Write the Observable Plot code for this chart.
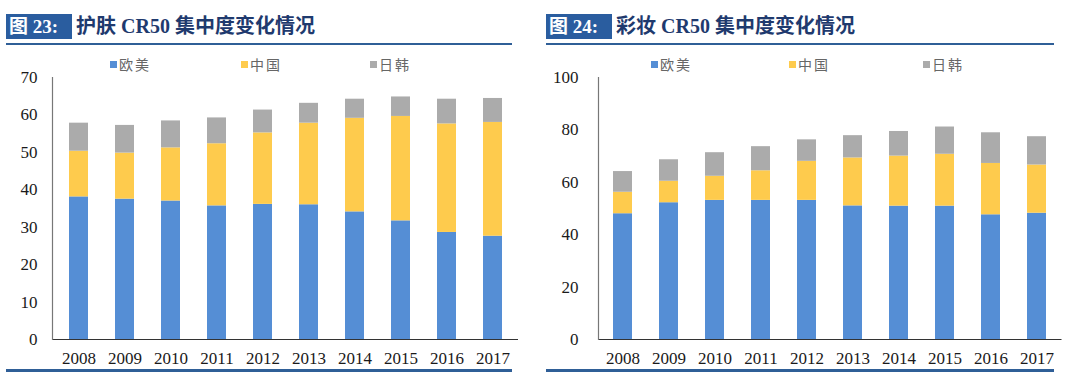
<!DOCTYPE html>
<html><head><meta charset="utf-8">
<script src="https://cdn.jsdelivr.net/npm/d3@7"></script>
<script src="https://cdn.jsdelivr.net/npm/@observablehq/plot@0.6"></script>
<style>
html,body{margin:0;padding:0;background:#fff;}
#wrap{position:relative;width:1080px;height:380px;overflow:hidden;}
.panel{position:absolute;top:0;width:540px;height:380px;}
.tbox{position:absolute;top:14px;left:6px;height:25px;width:66px;background:#2a5d9f;color:#fff;font:bold 19px "Liberation Serif","Noto Sans CJK SC",serif;line-height:25px;padding-left:3px;box-sizing:border-box;white-space:nowrap;}
.ttext{position:absolute;top:14px;left:76px;height:25px;color:#1f3a6e;font:bold 20px "Liberation Serif","Noto Sans CJK SC",serif;line-height:25px;white-space:nowrap;}
.uline{position:absolute;top:43px;left:6px;width:506px;height:2px;background:#2f5f97;}
.bline{position:absolute;top:369px;left:6px;width:506px;height:3px;background:#2f5f97;}
.leg{position:absolute;top:54px;font:14px "Noto Sans CJK SC",sans-serif;color:#666;white-space:nowrap;letter-spacing:2px;}
.leg i{display:inline-block;width:7px;height:7px;margin-right:2px;vertical-align:2px;}
.chart{position:absolute;top:66px;left:0;}
</style></head>
<body><div id="wrap">
<div class="panel" id="p1" style="left:0">
  <div class="tbox">图 23:</div>
  <div class="ttext">护肤 CR50 集中度变化情况</div>
  <div class="uline"></div>
  <div class="leg" style="left:110px"><i style="background:#558ed5"></i>欧美</div>
  <div class="leg" style="left:241px"><i style="background:#fecb4d"></i>中国</div>
  <div class="leg" style="left:370px"><i style="background:#ababab"></i>日韩</div>
  <div class="chart" id="c1"></div>
  <div class="bline"></div>
</div>
<div class="panel" id="p2" style="left:540px">
  <div class="tbox">图 24:</div>
  <div class="ttext">彩妆 CR50 集中度变化情况</div>
  <div class="uline" style="width:508px"></div>
  <div class="leg" style="left:111px"><i style="background:#558ed5"></i>欧美</div>
  <div class="leg" style="left:249px"><i style="background:#fecb4d"></i>中国</div>
  <div class="leg" style="left:383px"><i style="background:#ababab"></i>日韩</div>
  <div class="chart" id="c2"></div>
  <div class="bline" style="width:508px"></div>
</div>
</div>
<script>
const years = ["2008","2009","2010","2011","2012","2013","2014","2015","2016","2017"];
const series = ["欧美","中国","日韩"];
const colors = ["#558ed5","#fecb4d","#ababab"];
// 护肤 CR50
const skinEU = [38.1, 37.5, 37.0, 35.7, 36.1, 36.0, 34.1, 31.7, 28.6, 27.6];
const skinCN = [12.2, 12.3, 14.2, 16.6, 19.1, 21.8, 25.0, 27.9, 29.0, 30.4];
const skinJK = [7.5, 7.4, 7.2, 6.9, 6.1, 5.3, 5.1, 5.2, 6.6, 6.4];
// 彩妆 CR50
const makeupEU = [48.0, 52.2, 53.1, 53.1, 53.1, 51.0, 50.9, 50.9, 47.6, 48.2];
const makeupCN = [8.2, 8.2, 9.2, 11.3, 14.9, 18.3, 19.1, 19.8, 19.6, 18.4];
const makeupJK = [7.9, 8.2, 9.0, 9.2, 8.2, 8.5, 9.4, 10.4, 11.7, 10.8];
const skinTicks = [0,10,20,30,40,50,60,70];
const makeupTicks = [0,20,40,60,80,100];

function tidy(arrs){
  const out=[];
  arrs.forEach((a,si)=>a.forEach((v,i)=>out.push({year:years[i],series:series[si],value:v})));
  return out;
}
function chart(data, ticks, ymax, ml, mr, tp){
  return Plot.plot({
    width:540, height:310,
    marginLeft:ml, marginRight:mr, marginTop:11, marginBottom:37,
    style:{fontFamily:"'Liberation Serif',serif",fontSize:"17px",color:"#1a1a1a",background:"transparent",overflow:"visible"},
    x:{domain:years,paddingInner:0.59,paddingOuter:0.295,label:null,tickSize:0,tickPadding:12},
    y:{domain:[0,ymax],ticks:ticks,label:null,tickSize:0,tickPadding:tp},
    color:{domain:series,range:colors},
    marks:[
      Plot.barY(data,{x:"year",y:"value",fill:"series",order:series}),
      Plot.ruleY([0],{stroke:"#333",strokeWidth:1.2}),
      Plot.frame({anchor:"left",stroke:"#777",strokeWidth:1.2})
    ]
  });
}
document.getElementById("c1").append(chart(tidy([skinEU,skinCN,skinJK]),skinTicks,70,52,22,15));
document.getElementById("c2").append(chart(tidy([makeupEU,makeupCN,makeupJK]),makeupTicks,100,58,18.5,20));
</script>
</body></html>
